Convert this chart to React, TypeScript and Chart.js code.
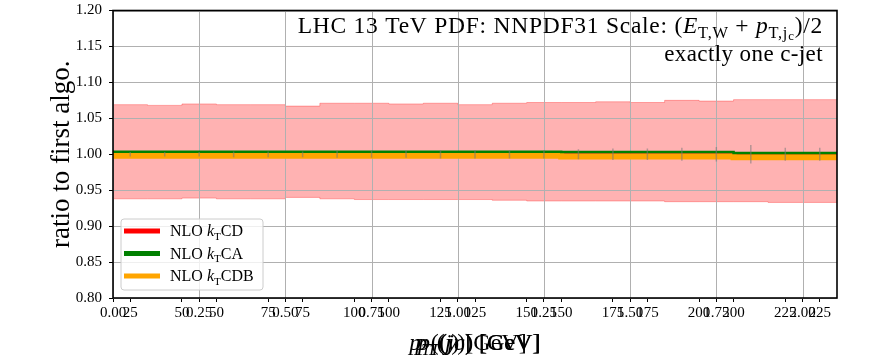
import React, { useEffect, useRef } from 'react';
import { Chart, registerables } from 'chart.js';

Chart.register(...registerables);

// ---------- data ----------
const binEdges = [30, 40, 50, 60, 70, 80, 90, 100, 110, 120, 130, 140, 150, 160, 170, 180, 190, 200, 210, 220, 230, 240];
const bandUpper = [1.068, 1.069, 1.068, 1.070, 1.069, 1.069, 1.067, 1.071, 1.071, 1.070, 1.071, 1.069, 1.071, 1.072, 1.072, 1.073, 1.072, 1.075, 1.074, 1.076, 1.076];
const bandLower = [0.939, 0.938, 0.938, 0.939, 0.938, 0.938, 0.940, 0.938, 0.937, 0.937, 0.937, 0.937, 0.936, 0.935, 0.935, 0.935, 0.935, 0.934, 0.934, 0.934, 0.933];
const cdRatio = [1, 1, 1, 1, 1, 1, 1, 1, 1, 1, 1, 1, 1, 1, 1, 1, 1, 1, 1, 1, 1];
const caRatio = [1.0035, 1.0035, 1.0035, 1.0035, 1.0035, 1.0035, 1.0035, 1.0035, 1.0035, 1.0035, 1.0035, 1.0035, 1.0035, 1.0035, 1.003, 1.003, 1.003, 1.003, 1.003, 1.0017, 1.0017];
const cdbRatio = [0.998, 0.998, 0.998, 0.998, 0.998, 0.998, 0.998, 0.998, 0.998, 0.998, 0.998, 0.998, 0.998, 0.998, 0.997, 0.997, 0.997, 0.997, 0.997, 0.9957, 0.9957];
const statErr = [0.003, 0.003, 0.003, 0.004, 0.004, 0.004, 0.005, 0.005, 0.005, 0.006, 0.006, 0.006, 0.006, 0.007, 0.008, 0.008, 0.009, 0.010, 0.013, 0.009, 0.009];

const yTicks = [0.8, 0.85, 0.9, 0.95, 1.0, 1.05, 1.1, 1.15, 1.2];
const xMainTicks = [0, 0.25, 0.5, 0.75, 1.0, 1.25, 1.5, 1.75, 2.0];
const xATicks = [50, 75, 100, 125, 150, 175, 200, 225];
const xBTicks = [25, 50, 75, 100, 125, 150, 175, 200, 225];

const legendItems = [
  { color: '#ff0000', name: 'CD' },
  { color: '#008000', name: 'CA' },
  { color: '#ffa500', name: 'CDB' },
];

// ---------- helpers ----------
const FAMILY = '"Liberation Serif", "DejaVu Serif", serif';

function steps(values: number[]) {
  const pts = values.map((v, i) => ({ x: binEdges[i], y: v }));
  pts.push({ x: binEdges[values.length], y: values[values.length - 1] });
  return pts;
}

type Seg = { t: string; it?: boolean; sub?: number };

function segFont(s: Seg, size: number) {
  const k = s.sub === 1 ? 0.7 : s.sub === 2 ? 0.55 : 1;
  return `${s.it ? 'italic ' : ''}${(size * k).toFixed(1)}px ${FAMILY}`;
}

function drawRich(ctx: CanvasRenderingContext2D, segs: Seg[], x: number, y: number, size: number, align: 'left' | 'right' | 'center', spacing = 0) {
  ctx.save();
  ctx.textBaseline = 'alphabetic';
  ctx.textAlign = 'left';
  (ctx as any).letterSpacing = `${spacing}px`;
  const widths = segs.map((s) => {
    ctx.font = segFont(s, size);
    return ctx.measureText(s.t).width;
  });
  const total = widths.reduce((a, b) => a + b, 0);
  let cx = align === 'left' ? x : align === 'right' ? x - total : x - total / 2;
  segs.forEach((s, i) => {
    ctx.font = segFont(s, size);
    const dy = s.sub === 1 ? size * 0.22 : s.sub === 2 ? size * 0.34 : 0;
    ctx.fillText(s.t, cx, y + dy);
    cx += widths[i];
  });
  ctx.restore();
}

// grid drawn above the band but below the lines
const gridPlugin = {
  id: 'gridAbove',
  afterDatasetDraw(chart: any, args: any) {
    if (args.index !== 1) return;
    const { ctx, chartArea: a, scales } = chart;
    ctx.save();
    ctx.strokeStyle = '#b0b0b0';
    ctx.lineWidth = 1;
    ctx.beginPath();
    xMainTicks.forEach((v) => {
      const px = Math.round(scales.x.getPixelForValue(v)) + 0.5;
      ctx.moveTo(px, a.top);
      ctx.lineTo(px, a.bottom);
    });
    yTicks.forEach((v) => {
      const py = Math.round(scales.y.getPixelForValue(v)) + 0.5;
      ctx.moveTo(a.left, py);
      ctx.lineTo(a.right, py);
    });
    ctx.stroke();
    ctx.restore();
  },
};

const decorPlugin = {
  id: 'decor',
  afterDatasetsDraw(chart: any) {
    const { ctx, scales } = chart;
    // error bars
    ctx.save();
    ctx.strokeStyle = 'rgba(120,120,120,0.55)';
    ctx.lineWidth = 1.5;
    ctx.beginPath();
    cdRatio.forEach((v, i) => {
      const cx = scales.xa.getPixelForValue((binEdges[i] + binEdges[i + 1]) / 2);
      ctx.moveTo(cx, scales.y.getPixelForValue(v + statErr[i]));
      ctx.lineTo(cx, scales.y.getPixelForValue(v - statErr[i]));
    });
    ctx.stroke();
    ctx.restore();
  },
  afterDraw(chart: any) {
    const { ctx, chartArea: a } = chart;
    ctx.save();
    // frame
    ctx.strokeStyle = '#000';
    ctx.lineWidth = 1.6;
    ctx.strokeRect(a.left, a.top, a.right - a.left, a.bottom - a.top);

    ctx.fillStyle = '#000';
    // annotation top right
    drawRich(ctx, [
      { t: 'LHC 13 TeV PDF: NNPDF31 Scale: (' },
      { t: 'E', it: true },
      { t: 'T,W', sub: 1 },
      { t: ' + ' },
      { t: 'p', it: true },
      { t: 'T,j', sub: 1 },
      { t: 'c', sub: 2 },
      { t: ')/2' },
    ], a.right - 14, a.top + 22, 23.5, 'right', 0.75);
    drawRich(ctx, [{ t: 'exactly one c-jet' }], a.right - 14, a.top + 50, 23, 'right', 0.4);

    // legend
    const lx = a.left + 8, ly = a.bottom - 79, lw = 142, lh = 71;
    ctx.beginPath();
    if ((ctx as any).roundRect) (ctx as any).roundRect(lx, ly, lw, lh, 3);
    else ctx.rect(lx, ly, lw, lh);
    ctx.fillStyle = 'rgba(255,255,255,0.8)';
    ctx.fill();
    ctx.strokeStyle = '#cccccc';
    ctx.lineWidth = 1;
    ctx.stroke();
    legendItems.forEach((it, i) => {
      const yy = ly + 12 + i * 22.5;
      ctx.strokeStyle = it.color;
      ctx.lineWidth = 5;
      ctx.beginPath();
      ctx.moveTo(lx + 3, yy);
      ctx.lineTo(lx + 39, yy);
      ctx.stroke();
      ctx.fillStyle = '#000';
      drawRich(ctx, [
        { t: 'NLO ' },
        { t: 'k', it: true },
        { t: 'T', sub: 1 },
        { t: it.name },
      ], lx + 49, yy + 5, 16, 'left');
    });

    // y title
    ctx.save();
    ctx.translate(69, (a.top + a.bottom) / 2);
    ctx.rotate(-Math.PI / 2);
    ctx.fillStyle = '#000';
    ctx.font = `27px ${FAMILY}`;
    ctx.textAlign = 'center';
    ctx.textBaseline = 'alphabetic';
    ctx.fillText('ratio to first algo.', 0, 0);
    ctx.restore();

    // x titles (overlapping, as in the reference)
    const xc = (a.left + a.right) / 2;
    const xt: Seg[][] = [
      [{ t: 'p', it: true }, { t: 'T', it: true, sub: 1 }, { t: '(' }, { t: 'j', it: true }, { t: ') [GeV]' }],
      [{ t: 'p', it: true }, { t: 'T', it: true, sub: 1 }, { t: '((' }, { t: 'y', it: true }, { t: ')) [GeV]' }],
      [{ t: 'p', it: true }, { t: 'T', it: true, sub: 1 }, { t: '(' }, { t: 'jc', it: true }, { t: ') [GeV]' }],
    ];
    ctx.fillStyle = '#000';
    xt.forEach((segs, i) => drawRich(ctx, segs, xc - 4 + i * 4, a.bottom + 52, 24, 'center'));
    ctx.restore();
  },
};

const tickFont = { family: FAMILY, size: 15 };
const noPadH = (s: any) => { s.paddingLeft = 0; s.paddingRight = 0; s.paddingTop = 0; s.paddingBottom = 0; };

export default function App() {
  const ref = useRef<HTMLCanvasElement>(null);
  useEffect(() => {
    if (!ref.current) return;
    const chart = new Chart(ref.current, {
      type: 'line',
      data: {
        datasets: [
          {
            label: 'band upper',
            data: steps(bandUpper),
            xAxisID: 'xa',
            yAxisID: 'y',
            stepped: 'after',
            borderColor: 'rgba(255,0,0,0.3)',
            borderWidth: 1,
            backgroundColor: 'rgba(255,0,0,0.3)',
            fill: '+1',
            pointRadius: 0,
            order: 10,
          },
          {
            label: 'band lower',
            data: steps(bandLower),
            xAxisID: 'xa',
            yAxisID: 'y',
            stepped: 'after',
            borderColor: 'rgba(255,0,0,0.3)',
            borderWidth: 1,
            fill: false,
            pointRadius: 0,
            order: 9,
          },
          {
            label: 'NLO kTCD',
            data: steps(cdRatio),
            xAxisID: 'xa',
            yAxisID: 'y',
            stepped: 'after',
            borderColor: '#ff0000',
            borderWidth: 2,
            fill: false,
            pointRadius: 0,
            order: 3,
          },
          {
            label: 'NLO kTCDB',
            data: steps(cdbRatio),
            xAxisID: 'xa',
            yAxisID: 'y',
            stepped: 'after',
            borderColor: '#ffa500',
            borderWidth: 6,
            fill: false,
            pointRadius: 0,
            order: 2,
          },
          {
            label: 'NLO kTCA',
            data: steps(caRatio),
            xAxisID: 'xa',
            yAxisID: 'y',
            stepped: 'after',
            borderColor: '#008000',
            borderWidth: 2.5,
            fill: false,
            pointRadius: 0,
            order: 1,
          },
        ],
      },
      options: {
        responsive: false,
        animation: false,
        events: [],
        layout: { padding: { left: 0, right: 35, top: 10.5, bottom: 0 } },
        plugins: { legend: { display: false }, tooltip: { enabled: false }, title: { display: false } },
        scales: {
          x: {
            type: 'linear',
            position: 'bottom',
            min: 0,
            max: 2.1,
            afterBuildTicks: (s: any) => { s.ticks = xMainTicks.map((v) => ({ value: v })); },
            afterFit: (s: any) => { s.height = 65; noPadH(s); },
            ticks: { font: tickFont, color: '#000', padding: 2, maxRotation: 0, autoSkip: false, callback: (v: any) => Number(v).toFixed(2) },
            grid: { drawOnChartArea: false, drawTicks: true, tickLength: 4, color: '#000' },
            border: { display: false },
          },
          xa: {
            type: 'linear',
            axis: 'x',
            position: { y: 0.8 } as any,
            min: 30,
            max: 240,
            afterBuildTicks: (s: any) => { s.ticks = xATicks.map((v) => ({ value: v })); },
            afterFit: noPadH,
            ticks: { font: tickFont, color: '#000', padding: 2, maxRotation: 0, autoSkip: false, callback: (v: any) => String(v) },
            grid: { drawOnChartArea: false, drawTicks: true, tickLength: 4, color: '#000' },
            border: { display: false },
          },
          xb: {
            type: 'linear',
            axis: 'x',
            position: { y: 0.8 } as any,
            min: 20,
            max: 230,
            afterBuildTicks: (s: any) => { s.ticks = xBTicks.map((v) => ({ value: v })); },
            afterFit: noPadH,
            ticks: { font: tickFont, color: '#000', padding: 2, maxRotation: 0, autoSkip: false, callback: (v: any) => String(v) },
            grid: { drawOnChartArea: false, drawTicks: true, tickLength: 4, color: '#000' },
            border: { display: false },
          },
          y: {
            type: 'linear',
            position: 'left',
            min: 0.8,
            max: 1.2,
            afterBuildTicks: (s: any) => { s.ticks = yTicks.map((v) => ({ value: v })); },
            afterFit: (s: any) => { s.width = 113; noPadH(s); },
            ticks: { font: tickFont, color: '#000', padding: 7, callback: (v: any) => Number(v).toFixed(2) },
            grid: { drawOnChartArea: false, drawTicks: true, tickLength: 4, color: '#000' },
            border: { display: false },
          },
        },
      },
      plugins: [gridPlugin, decorPlugin],
    } as any);
    return () => chart.destroy();
  }, []);
  return (
    <div style={{ position: 'fixed', left: 0, top: 0, width: 872, height: 363, background: '#fff' }}>
      <canvas ref={ref} width={872} height={363} style={{ display: 'block' }} />
    </div>
  );
}
